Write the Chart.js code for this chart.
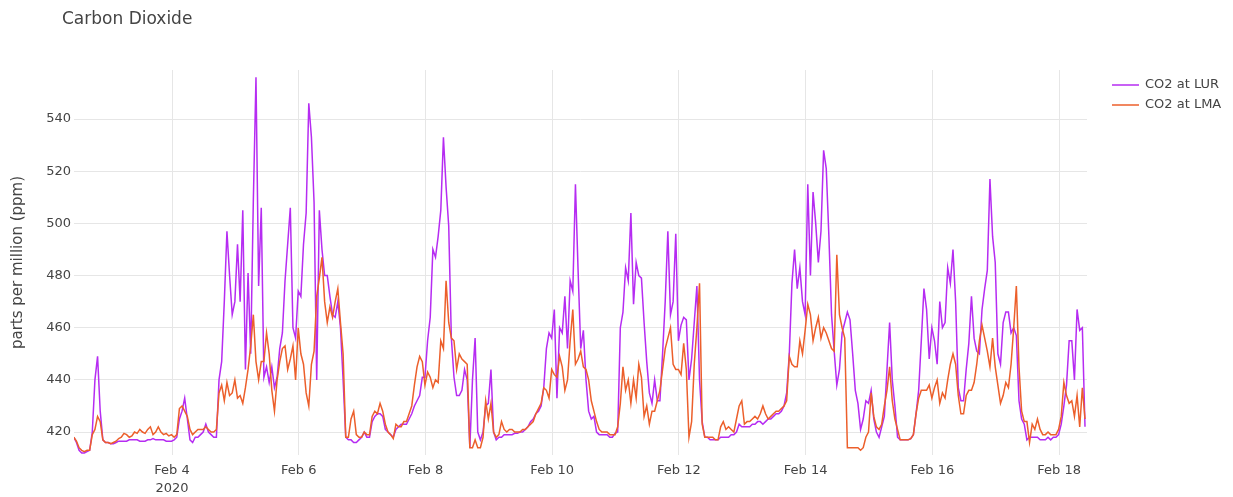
<!DOCTYPE html>
<html>
<head>
<meta charset="utf-8">
<title>Carbon Dioxide</title>
<script src="https://cdn.jsdelivr.net/npm/chart.js@4.4.1/dist/chart.umd.min.js"></script>
<style>
  html, body { margin: 0; padding: 0; background: #fff; }
  #co2-chart { display: block; }
</style>
</head>
<body>
<canvas id="co2-chart" width="1233" height="497"></canvas>
<script>
// time axis: day of February 2020, one reading per hour
const START_DAY = 2.45;
const STEP_DAYS = 1 / 24;

const tickDays = [4, 6, 8, 10, 12, 14, 16, 18];
const tickLabels = [['Feb 4', '2020'], 'Feb 6', 'Feb 8', 'Feb 10', 'Feb 12', 'Feb 14', 'Feb 16', 'Feb 18'];
const yTicks = [420, 440, 460, 480, 500, 520, 540];

const seriesNames = ['CO2 at LUR', 'CO2 at LMA'];

// ppm, one row = 12 hours
const lurValues = [
  418, 416, 413, 412, 412, 412.5, 413, 420, 440, 449, 428, 417,
  416, 416, 415.5, 415.5, 416, 416.5, 416.5, 416.5, 416.5, 417, 417, 417,
  417, 416.5, 416.5, 416.5, 417, 417, 417.5, 417, 417, 417, 417, 416.5,
  416.5, 416.5, 417, 418, 425, 428, 433, 425, 417, 416, 418, 418,
  419, 420, 423, 420, 419, 418, 418, 440, 447, 470, 497, 480,
  465, 470, 492, 470, 505, 444, 481, 450, 509, 556, 476, 506,
  441, 445, 439, 445, 437, 441, 452, 458, 478, 492, 506, 460,
  456, 474, 472, 492, 504, 546, 533, 508, 440, 505, 490, 480,
  480, 472, 465, 464, 470, 460, 440, 418, 417, 417, 416, 416,
  417, 418, 420, 418, 418, 424, 426, 427, 427, 426, 421, 420,
  419, 418, 421, 422, 423, 423, 423, 425, 427, 430, 432, 434,
  441, 441, 455, 464, 490, 487, 495, 505, 533, 514, 499, 456,
  441, 434, 434, 436, 444, 440, 414, 440, 456, 420, 417, 420,
  430, 431, 444, 420, 417, 418, 418, 419, 419, 419, 419, 419.5,
  419.5, 420, 420, 421, 422, 424, 425, 427, 428, 430, 437, 452,
  458, 456, 467, 433, 460, 458, 472, 452, 478, 474, 515, 482,
  452, 459, 440, 428, 425, 426, 420, 419, 419, 419, 419, 418,
  418, 419.5, 420, 460, 466, 483, 478, 504, 469, 485, 480, 479,
  462, 447, 435, 431, 440, 432, 432, 450, 470, 497, 465, 470,
  496, 455, 461, 464, 463, 440, 448, 462, 476, 440, 424, 418,
  418, 417, 417, 417, 417, 418, 418, 418, 418, 419, 419, 420,
  423, 422, 422, 422, 422, 423, 423, 424, 424, 423, 424, 425,
  425, 426, 427, 427, 428, 430, 435, 450, 477, 490, 475, 483,
  470, 465, 515, 480, 512, 500, 485, 497, 528, 521, 495, 465,
  451, 438, 444, 458, 462, 466, 463, 450, 436, 431, 421, 425,
  432, 431, 436, 425, 420, 418, 422, 426, 444, 462, 440, 430,
  418, 417, 417, 417, 417, 417.5, 419, 427, 436, 455, 475, 467,
  448, 460, 455, 446, 470, 460, 462, 483, 477, 490, 470, 437,
  432, 432, 444, 454, 472, 456, 451, 450, 467, 475, 482, 517,
  495, 485, 450, 446, 462, 466, 466, 458, 460, 457, 432, 425,
  423, 417, 418, 418, 418, 418, 417, 417, 417, 418, 417, 418,
  418, 419, 423, 430, 438, 455, 455, 440, 467, 459, 460, 422
];

const lmaValues = [
  418, 416.5, 414, 413, 412.5, 413, 413, 419, 421, 426, 424, 417,
  416, 416, 415.5, 416, 416.5, 417.5, 418, 419.5, 419, 418, 418.5, 420,
  419.5, 421, 420, 419.5, 421, 422, 419, 420, 422, 420, 419, 419.5,
  418.5, 419, 418, 419, 429, 430, 428, 426, 421, 419, 420, 421,
  421, 421, 422, 421, 420, 420, 421, 435, 438, 432, 439, 434,
  435, 440, 433, 434, 431, 437, 444, 453, 465, 447, 440, 447,
  447, 458, 450, 436, 428, 440, 447, 452, 453, 444, 448, 453,
  440, 460, 450, 446, 435, 430, 446, 451, 472, 479, 487, 470,
  462, 468, 464, 470, 475, 462, 450, 418, 418, 425, 428, 419,
  418, 418, 420, 419, 419, 426, 428, 427, 431, 428, 423, 420,
  419, 417.5, 423, 422, 422, 424, 424, 427, 430, 438, 445, 449,
  447, 438, 443, 441, 437, 440, 439, 455, 452, 478, 462, 456,
  455, 444, 450, 448, 447, 446, 414, 414, 417, 414, 414, 418,
  432, 425, 431, 420, 418, 419, 424, 421, 420, 421, 421, 420,
  420, 420, 421, 421, 422, 423, 424, 427, 429, 431, 437, 436,
  433, 444, 442, 441, 449, 445, 436, 440, 455, 467, 446, 448,
  451, 445, 444, 440, 432, 428, 424, 421, 420, 420, 420, 419,
  419, 419, 422, 431, 445, 436, 440, 431, 440, 433, 446, 441,
  426, 430, 423, 428, 428, 432, 436, 444, 452, 456, 460, 446,
  444, 444, 442, 454, 444, 418, 424, 446, 460, 477, 423, 418,
  418, 418, 418, 417, 417, 422, 424, 421, 422, 421, 420, 425,
  430, 432, 423, 424, 424, 425, 426, 425, 427, 430, 427, 425,
  426, 427, 428, 428, 429, 430, 432, 449, 446, 445, 445, 455,
  450, 459, 469, 465, 455, 460, 464, 456, 460, 458, 455, 452,
  451, 488, 465, 460, 456, 414, 414, 414, 414, 414, 413, 414,
  418, 420, 435, 426, 422, 421, 423, 430, 436, 445, 432, 425,
  421, 417, 417, 417, 417, 417.5, 419, 427, 433, 436, 436, 436,
  438, 433, 437, 440, 431, 435, 433, 440, 446, 450, 446, 434,
  427, 427, 434, 436, 436, 439, 446, 455, 461, 456, 451, 445,
  456, 445, 438, 431, 434, 439, 437, 446, 460, 476, 445, 428,
  424, 424, 416, 423, 421, 425, 421, 419, 419, 420, 419, 419,
  419, 421, 426, 439, 434, 431, 432, 426, 434, 422, 437, 425
];

const lineColors = ['#b62cf2', '#ec5f2b'];
const textColor = '#444';
const gridColor = '#e6e6e6';
const FONT = '"DejaVu Sans", Verdana, sans-serif';

function toPoints(values) {
  return values.map((v, i) => ({ x: START_DAY + i * STEP_DAYS, y: v }));
}

// title and legend are placed by hand, plotly style
const headerPlugin = {
  id: 'co2Header',
  afterDraw(chart) {
    const { ctx } = chart;
    ctx.save();
    ctx.fillStyle = textColor;
    ctx.font = '17px ' + FONT;
    ctx.textAlign = 'left';
    ctx.textBaseline = 'alphabetic';
    ctx.fillText('Carbon Dioxide', 62, 24);

    ctx.font = '13px ' + FONT;
    ctx.textBaseline = 'middle';
    seriesNames.forEach((name, i) => {
      const y = 85 + i * 20;
      ctx.strokeStyle = lineColors[i];
      ctx.globalAlpha = 0.75;
      ctx.lineWidth = 2;
      ctx.beginPath();
      ctx.moveTo(1112, y);
      ctx.lineTo(1139, y);
      ctx.stroke();
      ctx.globalAlpha = 1;
      ctx.fillStyle = textColor;
      ctx.fillText(name, 1145, y);
    });
    ctx.restore();
  }
};

new Chart(document.getElementById('co2-chart'), {
  type: 'line',
  data: {
    datasets: [
      {
        label: seriesNames[0],
        data: toPoints(lurValues),
        borderColor: lineColors[0],
        borderWidth: 1.5,
        pointRadius: 0,
        tension: 0,
        order: 1,
      },
      {
        label: seriesNames[1],
        data: toPoints(lmaValues),
        borderColor: lineColors[1],
        borderWidth: 1.5,
        pointRadius: 0,
        tension: 0,
        order: 0,
      },
    ],
  },
  options: {
    responsive: false,
    animation: false,
    layout: { padding: { left: 0, top: 70, right: 146, bottom: 0 } },
    scales: {
      x: {
        type: 'linear',
        min: 2.453,
        max: 18.44,
        afterFit: (scale) => { scale.height = 42; },
        afterBuildTicks: (scale) => { scale.ticks = tickDays.map((d) => ({ value: d })); },
        ticks: {
          color: textColor,
          font: { family: FONT, size: 13, lineHeight: 1.35 },
          padding: 7,
          maxRotation: 0,
          autoSkip: false,
          callback: (v) => tickLabels[tickDays.indexOf(v)],
        },
        grid: { color: gridColor, drawTicks: false },
        border: { display: false },
      },
      y: {
        min: 411.2,
        max: 558.8,
        afterFit: (scale) => { scale.width = 74; },
        afterBuildTicks: (scale) => { scale.ticks = yTicks.map((v) => ({ value: v })); },
        ticks: {
          color: textColor,
          font: { family: FONT, size: 13 },
          padding: 3,
        },
        grid: { color: gridColor, drawTicks: false },
        border: { display: false },
        title: {
          display: true,
          text: 'parts per million (ppm)',
          color: textColor,
          font: { family: FONT, size: 15 },
          padding: { top: 9, bottom: 0 },
        },
      },
    },
    plugins: {
      legend: { display: false },
      title: { display: false },
      tooltip: { enabled: false },
    },
  },
  plugins: [headerPlugin],
});
</script>
</body>
</html>
